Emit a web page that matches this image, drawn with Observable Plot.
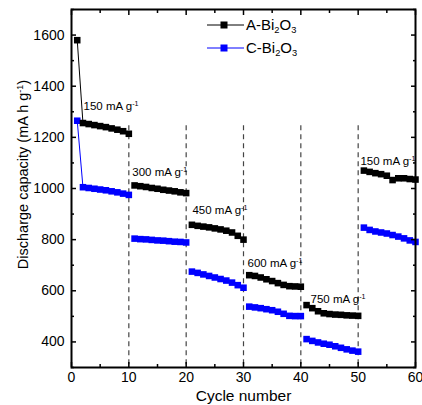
<!DOCTYPE html>
<html><head><meta charset="utf-8">
<script src="https://cdn.jsdelivr.net/npm/d3@7"></script>
<script src="https://cdn.jsdelivr.net/npm/@observablehq/plot@0.6"></script>
<style>
body{margin:0;background:#fff;font-family:"Liberation Sans",Arial,sans-serif;}
#wrap{position:relative;width:422px;height:405px;}
#legend{position:absolute;left:207px;top:13px;font-size:15px;color:#000;}
#legend .item{display:flex;align-items:center;height:23px;}
#legend svg{display:block;margin-right:2px;}
#legend sub{font-size:0.62em;vertical-align:-0.35em;line-height:0;}
</style></head><body><div id="wrap"><div id="legend"></div></div>
<script>
const cycles = d3.range(1, 61);
const seriesNames = ["A-Bi2O3", "C-Bi2O3"];
const seriesColors = ["#000000", "#0000ff"];
const aValues = [1580,
  1256,1252,1248,1244,1240,1235,1230,1224,1214,
  1012,1009,1006,1002,999,995,992,989,985,982,
  858,854,851,848,844,840,835,828,815,800,
  661,658,652,645,638,630,623,618,617,616,
  544,532,520,512,509,507,506,504,503,502,
  1070,1065,1060,1056,1050,1033,1040,1040,1037,1035];
const cValues = [1265,
  1005,1002,999,996,993,989,985,980,975,
  804,802,801,799,797,796,794,792,791,789,
  675,670,664,658,652,646,640,632,622,612,
  538,535,532,528,524,518,510,502,501,501,
  411,404,398,393,389,383,377,371,366,362,
  847,838,832,828,824,818,812,805,797,791];
const dividers = [10, 20, 30, 40, 50];
const dividerTop = 1245;
const rateLabels = ["150 mA g⁻¹","300 mA g⁻¹","450 mA g⁻¹","600 mA g⁻¹","750 mA g⁻¹","150 mA g⁻¹"];
const rateLabelX = [2.1, 10.6, 21.1, 30.7, 41.7, 50.4];
const rateLabelY = [1320, 1062, 914, 708, 568, 1105];
const xMajor = [0,10,20,30,40,50,60];
const xMinor = [5,15,25,35,45,55];
const yMajor = [400,600,800,1000,1200,1400,1600];
const yMinor = [300,500,700,900,1100,1300,1500,1700];
const xLabel = "Cycle number";
const yLabel = "Discharge capacity (mA h g⁻¹)";

const rows = [];
cycles.forEach((c, i) => {
  const seg = Math.max(1, Math.ceil(c / 10));
  rows.push({cycle: c, value: aValues[i], series: seriesNames[0], seg});
  rows.push({cycle: c, value: cValues[i], series: seriesNames[1], seg});
});
const colorOf = s => seriesColors[seriesNames.indexOf(s)];
const labels = rateLabels.map((t, i) => ({t, x: rateLabelX[i], y: rateLabelY[i]}));

const tickStyle = {stroke: "#000", strokeWidth: 1.5};
const blank = () => "";
const plain = d => String(d);

const chart = Plot.plot({
  width: 422, height: 405,
  marginLeft: 71, marginRight: 7, marginTop: 9, marginBottom: 38,
  x: {domain: [0, 60], label: null},
  y: {domain: [300, 1700], label: null},
  style: {fontFamily: "Liberation Sans, Arial, sans-serif", fontSize: "14px", color: "#000", background: "#fff"},
  marks: [
    Plot.ruleX(dividers, {x: d => d, y1: dividerTop, y2: 300, stroke: "#444", strokeWidth: 1.2, strokeDasharray: "5,4"}),
    Plot.line(rows, {x: "cycle", y: "value", z: d => d.series + d.seg, stroke: d => colorOf(d.series), strokeWidth: 1}),
    Plot.dot(rows, {x: "cycle", y: "value", symbol: "square", r: 3.7, fill: d => colorOf(d.series), stroke: null}),
    Plot.text(labels, {x: "x", y: "y", text: "t", textAnchor: "start", fontSize: 11.5, fill: "#000"}),
    Plot.axisX(xMajor, {anchor: "bottom", tickSize: -5, tickPadding: 10, fontSize: 14, tickFormat: plain, ...tickStyle}),
    Plot.axisX(xMinor, {anchor: "bottom", tickSize: -3, tickFormat: blank, ...tickStyle}),
    Plot.axisX(xMajor, {anchor: "top", tickSize: -5, tickFormat: blank, ...tickStyle}),
    Plot.axisX(xMinor, {anchor: "top", tickSize: -3, tickFormat: blank, ...tickStyle}),
    Plot.axisY(yMajor, {anchor: "left", tickSize: -5, tickPadding: 12, fontSize: 14, tickFormat: plain, ...tickStyle}),
    Plot.axisY(yMinor, {anchor: "left", tickSize: -3, tickFormat: blank, ...tickStyle}),
    Plot.axisY(yMajor, {anchor: "right", tickSize: -5, tickFormat: blank, ...tickStyle}),
    Plot.axisY(yMinor, {anchor: "right", tickSize: -3, tickFormat: blank, ...tickStyle}),
    Plot.frame({stroke: "#000", strokeWidth: 2}),
    Plot.text([xLabel], {frameAnchor: "bottom", textAnchor: "middle", dy: 33, lineAnchor: "bottom", fontSize: 15.5, fill: "#000"}),
    Plot.text([yLabel], {frameAnchor: "left", textAnchor: "middle", lineAnchor: "middle", rotate: -90, dx: -48, dy: -14, fontSize: 14.5, fill: "#000"})
  ]
});

// render superscripts as real small raised text
d3.select(chart).selectAll("text").each(function() {
  if (this.querySelector("tspan")) return;
  const t = this.textContent;
  const k = t.indexOf("⁻¹");
  if (k < 0) return;
  const before = t.slice(0, k), after = t.slice(k + 2);
  const sel = d3.select(this);
  sel.text(null);
  sel.append("tspan").text(before);
  sel.append("tspan").attr("font-size", "0.62em").attr("dy", "-0.55em").text("-1");
  if (after) sel.append("tspan").attr("dy", "0.34em").text(after);
});

document.getElementById("wrap").prepend(chart);

const legend = d3.select("#legend");
seriesNames.forEach((name, i) => {
  const item = legend.append("div").attr("class", "item");
  const s = item.append("svg").attr("width", 37).attr("height", 10);
  s.append("line").attr("x1", 0).attr("x2", 37).attr("y1", 5).attr("y2", 5).attr("stroke", seriesColors[i]).attr("stroke-width", 1);
  s.append("rect").attr("x", 13.5).attr("y", 1.5).attr("width", 7).attr("height", 7).attr("fill", seriesColors[i]);
  item.append("span").html(name.replace(/(\d)/g, "<sub>$1</sub>"));
});
</script></body></html>
